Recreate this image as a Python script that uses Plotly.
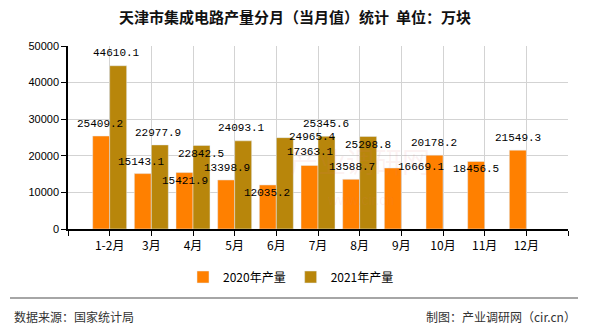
import plotly.graph_objects as go

categories = ["1-2月", "3月", "4月", "5月", "6月", "7月", "8月", "9月", "10月", "11月", "12月"]
prod_2020 = [25409.2, 15143.1, 15421.9, 13398.9, 12035.2, 17363.1, 13588.7, 16669.1, 20178.2, 18456.5, 21549.3]
prod_2021 = [44610.1, 22977.9, 22842.5, 24093.1, 24965.4, 25345.6, 25298.8]
y_ticks = [0, 10000, 20000, 30000, 40000, 50000]

# label offsets in pixels (style only)
dx_2020 = [-10, -10, -8, -8, -9, -8, -8, 20, -9, -9, -8.5]
dy_2020 = [12, 12, -8, 12, -8, 13, 12, 1, 12, -8, 12]
dx_2021 = [7, 7, 8, 7, 36, 8, 8.5]
dy_2021 = [13, 12, -8.5, 13, 1, 12, -8.5]

C2020 = "#FF8000"
C2021 = "#B8860B"
idx = list(range(len(categories)))

L, R, T, B = 68, 22, 46, 101
W, H = 590 - L - R, 330 - T - B


def px2paper(px, py):
    return (px - L) / W, (330 - B - py) / H


fig = go.Figure()
fig.add_trace(go.Bar(x=idx, y=prod_2020, name="2020年产量", marker_color=C2020))
fig.add_trace(go.Bar(x=idx[:len(prod_2021)], y=prod_2021, name="2021年产量", marker_color=C2021))

annos = []
# faint watermark
wx, wy = px2paper(360, 183)
annos.append(dict(x=wx, y=wy, xref="paper", yref="paper", text="产业调研网", showarrow=False,
                  font=dict(family="Noto Sans CJK SC", size=28, color="rgba(230,120,120,0.10)")))
wx, wy = px2paper(360, 210)
annos.append(dict(x=wx, y=wy, xref="paper", yref="paper", text="www.cir.cn", showarrow=False,
                  font=dict(family="Liberation Sans", size=14, color="rgba(230,120,120,0.10)")))

lab_font = dict(family="Liberation Mono, monospace", size=11, color="#000")
for i, v in enumerate(prod_2020):
    annos.append(dict(x=i, y=v, xref="x", yref="y", text=f"{v:.1f}", showarrow=False,
                      xshift=dx_2020[i], yshift=dy_2020[i], font=lab_font))
for i, v in enumerate(prod_2021):
    annos.append(dict(x=i, y=v, xref="x", yref="y", text=f"{v:.1f}", showarrow=False,
                      xshift=dx_2021[i], yshift=dy_2021[i], font=lab_font))

foot_font = dict(family="Noto Sans CJK SC", size=12, color="#333")
fx, fy = px2paper(12, 316)
annos.append(dict(x=fx, y=fy, xref="paper", yref="paper", xanchor="left", yanchor="middle",
                  text="数据来源：国家统计局", showarrow=False, font=foot_font))
fx, fy = px2paper(578, 316)
annos.append(dict(x=fx, y=fy, xref="paper", yref="paper", xanchor="right", yanchor="middle",
                  text="制图：产业调研网（cir.cn）", showarrow=False, font=foot_font))

lx0, ly = px2paper(10, 298)
lx1, _ = px2paper(578, 298)
gx, gy = px2paper(291, 277)

fig.update_layout(
    width=590, height=330,
    margin=dict(l=L, r=R, t=T, b=B),
    paper_bgcolor="white", plot_bgcolor="white",
    barmode="group", bargap=0.184, bargroupgap=0,
    title=dict(text="<b>天津市集成电路产量分月（当月值）统计  单位：万块</b>", x=0.5, xanchor="center",
               y=1 - 18/330, yanchor="middle",
               font=dict(family="Noto Sans CJK SC", size=15, color="#111")),
    showlegend=True,
    legend=dict(orientation="h", x=gx, xanchor="center", y=gy, yanchor="middle",
                font=dict(family="Noto Sans CJK SC", size=12, color="#000"), itemwidth=30,
                traceorder="normal"),
    annotations=annos,
    shapes=[dict(type="line", xref="paper", yref="paper",
                 x0=lx0, x1=lx1, y0=ly, y1=ly,
                 line=dict(color="#888", width=1.5))],
    font=dict(family="Liberation Sans, Arial", size=11, color="#000"),
)
fig.update_xaxes(
    range=[-1, len(categories)], tickmode="array",
    tickvals=list(range(-1, len(categories) + 1)),
    ticktext=[""] + categories + [""],
    showgrid=True, gridcolor="#d3d3d3", gridwidth=1,
    showline=True, linecolor="#000", linewidth=1.5,
    ticks="outside", ticklen=5, tickcolor="#000",
    tickfont=dict(family="Noto Sans CJK SC", size=12, color="#000"),
    zeroline=False, fixedrange=True,
)
fig.update_yaxes(
    range=[0, 50000], tickmode="array", tickvals=y_ticks, ticktext=[str(t) for t in y_ticks],
    showgrid=True, gridcolor="#d3d3d3", gridwidth=1,
    showline=True, linecolor="#000", linewidth=1.5,
    ticks="outside", ticklen=5, tickcolor="#000",
    tickfont=dict(family="Liberation Sans, Arial", size=11, color="#000"),
    zeroline=False, fixedrange=True,
)
fig.write_html("out.html")
